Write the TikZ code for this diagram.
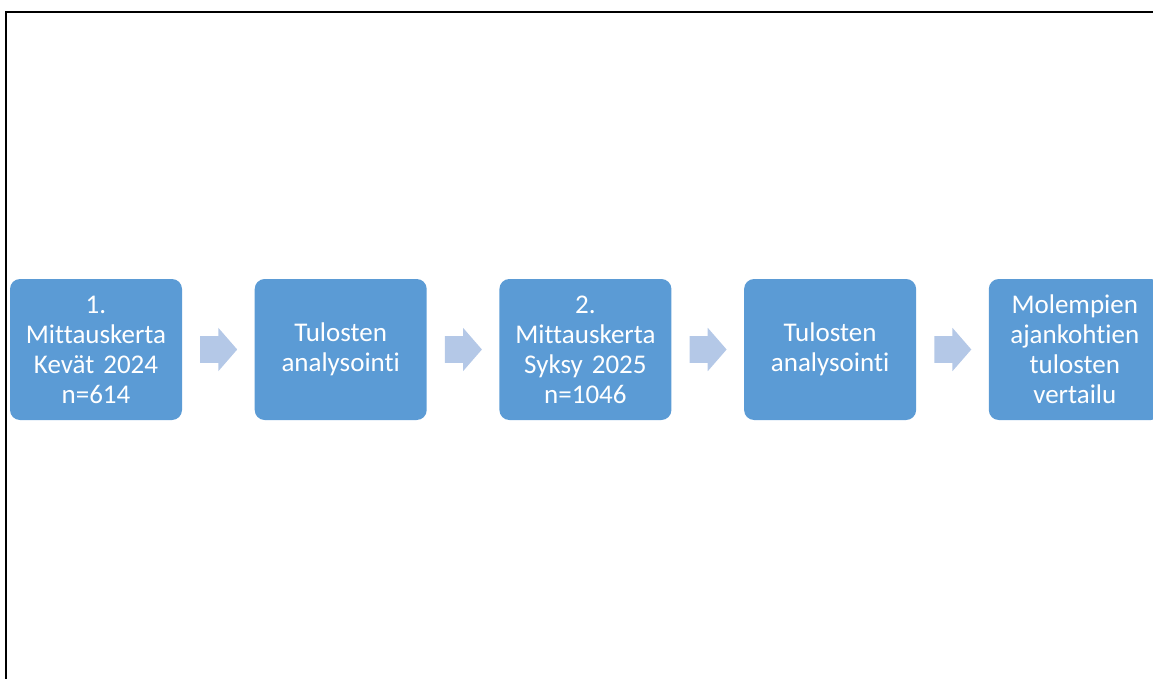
\documentclass[tikz,border=0pt]{standalone}
\usepackage{fontspec}
\setmainfont{Carlito}[Ligatures=NoCommon]
\usepackage{tikz}
\usetikzlibrary{shapes.arrows,positioning,calc}
\definecolor{stagecol}{HTML}{5B9BD5}
\definecolor{arrcol}{HTML}{B4C8E7}

\begin{document}
\begin{tikzpicture}[x=1pt,y=1pt,
  stage/.style={fill=stagecol,rounded corners=10pt,minimum width=172pt,minimum height=141pt,
    inner sep=0pt,outer sep=0pt,text width=168pt,align=center,text=white,font=\fontsize{27}{30}\selectfont},
  flowarr/.style={single arrow,fill=arrcol,minimum height=37pt,inner xsep=0pt,inner ysep=13.25pt,
    single arrow head extend=8.25pt,single arrow tip angle=98,single arrow head indent=0pt,anchor=tail}]
  \clip (0,0) rectangle (1153,-679);
  % frame
  \draw[line width=2.2pt] (6,-700) |- (1170,-12);
  \node[stage,anchor=north west] (s1) at (10,-279) {1.\\Mittauskerta\\Kevät 2024\\n=614};
  \node[stage,right=72.7pt of s1] (s2) {Tulosten\\analysointi};
  \node[stage,right=72.7pt of s2] (s3) {2.\\Mittauskerta\\Syksy 2025\\n=1046};
  \node[stage,right=72.7pt of s3] (s4) {Tulosten\\analysointi};
  \node[stage,right=72.7pt of s4] (s5) {Molempien\\ajankohtien\\tulosten\\vertailu};
  % arrows between stages
  \node[flowarr] (a1) at ($(s1.east)+(18,0)$) {};
  \node[flowarr] (a2) at ($(s2.east)+(18,0)$) {};
  \node[flowarr] (a3) at ($(s3.east)+(18,0)$) {};
  \node[flowarr] (a4) at ($(s4.east)+(18,0)$) {};
\end{tikzpicture}
\end{document}
